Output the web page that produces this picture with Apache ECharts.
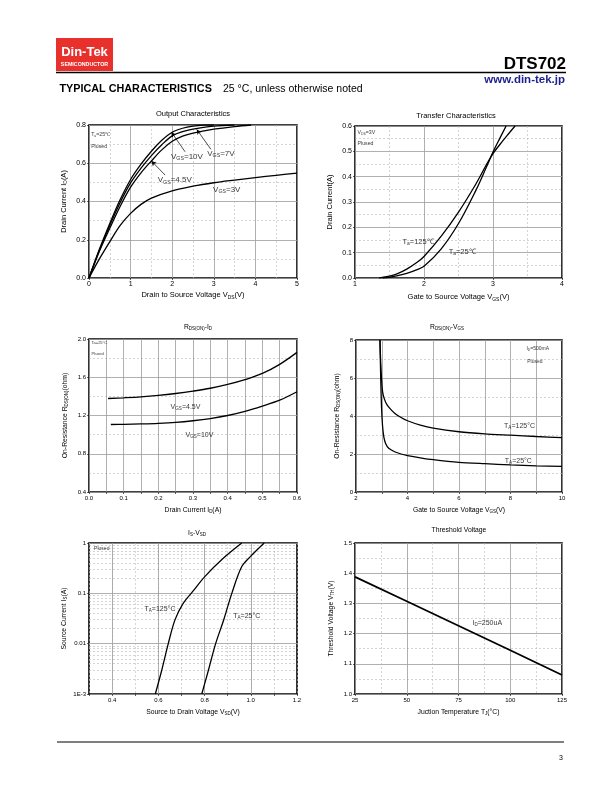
<!DOCTYPE html>
<html><head><meta charset="utf-8">
<script src="https://cdn.jsdelivr.net/npm/echarts/dist/echarts.min.js"></script>
<style>html,body{margin:0;padding:0;background:#fff}#c{width:612px;height:792px}</style>
</head><body><div id="c"></div>
<script>
// ---------- DATA ----------
// Chart 1: Output characteristics (VDS, ID)
const outVds10 = [0,0.25,0.5,0.75,1,1.25,1.5,1.75,2,2.25,2.5,2.75,3];
const outId10  = [0,0.15,0.285,0.41,0.515,0.595,0.663,0.72,0.762,0.783,0.794,0.799,0.8];
const outVds7  = [0,0.25,0.5,0.75,1,1.25,1.5,1.75,2,2.25,2.5,2.75,3,3.5];
const outId7   = [0,0.145,0.275,0.395,0.497,0.574,0.64,0.697,0.743,0.765,0.779,0.788,0.794,0.8];
const outVds45 = [0,0.25,0.5,0.75,1,1.25,1.5,1.75,2,2.25,2.5,3,3.5,3.9];
const outId45  = [0,0.14,0.26,0.375,0.475,0.55,0.612,0.67,0.715,0.742,0.758,0.778,0.792,0.8];
const outVds3  = [0,0.25,0.5,0.75,1,1.25,1.5,2,2.5,3,3.5,4,4.5,5];
const outId3   = [0,0.1,0.19,0.275,0.338,0.385,0.418,0.456,0.48,0.498,0.512,0.525,0.537,0.548];
// Chart 2: Transfer characteristics (VGS, ID)
const trVgs25  = [1.4,1.5,1.6,1.75,1.9,2,2.25,2.5,2.75,2.9,3,3.1,3.19];
const trId25   = [0,0.003,0.008,0.018,0.033,0.046,0.115,0.215,0.345,0.435,0.497,0.552,0.6];
const trVgs125 = [1.35,1.5,1.6,1.75,1.9,2,2.25,2.5,2.75,2.9,3,3.1,3.2,3.32];
const trId125  = [0,0.007,0.015,0.035,0.062,0.085,0.165,0.26,0.37,0.445,0.491,0.527,0.561,0.6];
// Chart 3: RDS(on) vs ID
const rdId45   = [0.055,0.1,0.15,0.2,0.25,0.3,0.35,0.4,0.45,0.5,0.55,0.6];
const rdR45    = [1.378,1.385,1.395,1.41,1.43,1.455,1.485,1.525,1.575,1.64,1.735,1.86];
const rdId10   = [0.063,0.1,0.15,0.2,0.25,0.3,0.35,0.4,0.45,0.5,0.55,0.6];
const rdR10    = [1.106,1.108,1.112,1.118,1.128,1.145,1.168,1.2,1.243,1.298,1.36,1.448];
// Chart 4: RDS(on) vs VGS
const rgV125   = [2.93,2.96,2.99,3.03,3.1,3.2,3.35,3.5,3.75,4,4.5,5,6,7,8,9,10];
const rgR125   = [8,6.8,6,5.3,4.9,4.6,4.35,4.15,3.92,3.75,3.52,3.36,3.17,3.06,2.99,2.92,2.86];
const rgV25    = [2.93,2.96,2.99,3.03,3.08,3.15,3.27,3.5,3.75,4,4.5,5,6,7,8,9,10];
const rgR25    = [8,6,4.5,3.5,2.9,2.55,2.3,2.12,2.0,1.92,1.8,1.7,1.56,1.49,1.43,1.38,1.35];
// Chart 5: IS vs VSD (log)
const sdV125   = [0.587,0.615,0.643,0.672,0.708,0.749,0.802,0.882,0.961];
const sdI125   = [0.001,0.003,0.01,0.0297,0.0638,0.109,0.217,0.502,1.0];
const sdV25    = [0.788,0.817,0.848,0.882,0.918,0.961,0.997,1.058];
const sdI25    = [0.001,0.003,0.01,0.0288,0.1,0.34,0.53,1.0];
// Chart 6: Threshold voltage vs Tj
const thTemp   = [25,50,75,100,125];
const thVth    = [1.388,1.307,1.226,1.145,1.063];
// Log-axis minor grid values and chart-5 major vertical lines
const logMinor = [0.002,0.003,0.004,0.005,0.006,0.007,0.008,0.009,0.02,0.03,0.04,0.05,0.06,0.07,0.08,0.09,0.2,0.3,0.4,0.5,0.6,0.7,0.8,0.9];
const sdMajorX = [0.4,0.6,0.8,1.0];

// ---------- STYLE HELPERS ----------
const FONT = '"Liberation Sans", Arial, Helvetica, sans-serif';
function rich(fs){ return { s:{fontSize:fs*0.66, fontFamily:FONT, color:'#000', padding:[fs*0.5,0,0,0]} }; }
const MAJ = {show:true, lineStyle:{color:'#9c9c9c', width:0.8, type:'solid'}};
const MIN = {show:true, lineStyle:{color:'#b8b8b8', width:0.6, type:[2,2]}};
const pair = (xs, ys) => xs.map((x,i)=>[x, ys[i]]);

function axis(o){
  const fs = o.fs;
  return Object.assign({
    gridIndex:o.g, type:o.type||'value', min:o.min, max:o.max, interval:o.interval,
    name:o.name, nameLocation:'middle', nameGap:o.gap,
    nameTextStyle:{fontFamily:FONT, fontSize:o.nfs, color:'#000', rich:rich(o.nfs)},
    axisLine:{show:false}, axisTick:{show:true, length:2, lineStyle:{color:'#000', width:0.6}},
    axisLabel:{fontFamily:FONT, fontSize:fs, color:'#000', margin:o.margin||3, formatter:o.fmt, showMinLabel:true, showMaxLabel:true},
    splitLine:o.split===false?{show:false}:(o.dash?MIN:MAJ),
    minorTick:{show:false, splitNumber:o.minor||2},
    minorSplitLine:o.minor?MIN:{show:false}
  }, o.extra||{});
}

const grids = [
  {left:89, top:125, width:208, height:153},
  {left:355, top:126, width:207, height:152},
  {left:89, top:339, width:208, height:153},
  {left:356, top:340, width:206, height:152},
  {left:89, top:543, width:208, height:151},
  {left:355, top:543, width:207, height:151}
].map(g=>Object.assign(g,{show:true, borderColor:'#000', borderWidth:1.6, backgroundColor:'transparent'}));

const f1 = v=>v.toFixed(1);
const xAxes = [
  axis({g:0,min:0,max:5,interval:1,minor:2,fs:7,nfs:7.5,gap:13,name:'Drain to Source Voltage V{s|DS}(V)',fmt:v=>String(v)}),
  axis({g:1,min:1,max:4,interval:1,minor:2,fs:7,nfs:7.5,gap:15,name:'Gate to Source Voltage V{s|GS}(V)',fmt:v=>String(v)}),
  axis({g:2,min:0,max:0.6,interval:0.05,fs:6,nfs:6.8,gap:14,name:'Drain Current I{s|D}(A)',
        fmt:v=>Math.abs(v*10-Math.round(v*10))<1e-6?v.toFixed(1):''}),
  axis({g:3,min:2,max:10,interval:1,fs:6,nfs:6.8,gap:14,name:'Gate to Source Voltage V{s|GS}(V)',
        fmt:v=>v%2===0?String(v):''}),
  axis({g:4,min:0.3,max:1.2,interval:0.1,dash:true,fs:6,nfs:6.8,gap:14,name:'Source to Drain Voltage V{s|SD}(V)',
        fmt:v=>{const k=Math.round(v*10);return (k%2===0&&k>=4)?(k/10).toFixed(1):'';}}),
  axis({g:5,min:25,max:125,interval:25,minor:2,fs:6,nfs:6.8,gap:14,name:'Juction Temperature T{s|J}(°C)',fmt:v=>String(v)})
];
const yAxes = [
  axis({g:0,min:0,max:0.8,interval:0.2,minor:2,fs:7,nfs:7.5,gap:21,name:'Drain Current I{s|D}(A)',fmt:f1}),
  axis({g:1,min:0,max:0.6,interval:0.1,minor:2,fs:7,nfs:7.5,gap:21,name:'Drain Current(A)',fmt:f1}),
  axis({g:2,min:0.4,max:2.0,interval:0.4,minor:2,fs:6,nfs:6.8,gap:20,name:'On-Resistance R{s|DS(ON)}(ohm)',fmt:f1}),
  axis({g:3,min:0,max:8,interval:2,minor:2,fs:6,nfs:6.8,gap:15,name:'On-Resistance R{s|DS(ON)}(ohm)',fmt:v=>String(v)}),
  axis({g:4,type:'log',min:0.001,max:1,fs:6,nfs:6.8,gap:21,name:'Source Current I{s|S}(A)',
        fmt:v=>{const e=Math.round(Math.log10(v));return e===0?'1':e===-3?'1E-3':String(Math.pow(10,e).toFixed(-e));},
        extra:{logBase:10}}),
  axis({g:5,min:1.0,max:1.5,interval:0.1,minor:2,fs:6,nfs:6.8,gap:20,name:'Threshold Voltage V{s|TH}(V)',fmt:f1})
];

function curve(g, xs, ys, w, sm){
  return {type:'line', xAxisIndex:g, yAxisIndex:g, data:pair(xs,ys), showSymbol:false, symbol:'none',
          smooth:sm===undefined?0.35:sm, lineStyle:{color:'#000', width:w||1.3}, silent:true, z:5};
}
function notes(g, items, fs, arrows, extraLines){
  const s = {type:'scatter', xAxisIndex:g, yAxisIndex:g, symbolSize:1, itemStyle:{color:'rgba(0,0,0,0)'}, silent:true, z:6,
    data: items.map(it=>({value:[it[0],it[1]], name:it[2], label:{fontSize:it[3]||fs, rich:rich(it[3]||fs)}})),
    label:{show:true, position:'right', distance:0, color:'#000', fontFamily:FONT, formatter:p=>p.name}};
  const ml = [];
  (arrows||[]).forEach(a=>ml.push([{coord:[a[0],a[1]], symbol:'none'},{coord:[a[2],a[3]], symbol:'arrow', symbolSize:[4,5]}]));
  (extraLines||[]).forEach(l=>ml.push(l));
  if(ml.length) s.markLine = {silent:true, symbol:'none', label:{show:false}, lineStyle:{color:'#000', width:0.7, type:'solid'}, data:ml, animation:false};
  return s;
}

const series = [
  curve(0,outVds10,outId10), curve(0,outVds7,outId7), curve(0,outVds45,outId45), curve(0,outVds3,outId3),
  notes(0,[[0.04,0.748,'T{s|a}=25℃',5.2],[0.04,0.687,'Plused',5.2],
           [1.96,0.634,'V{s|GS}=10V'],[2.83,0.652,'V{s|GS}=7V'],[1.64,0.512,'V{s|GS}=4.5V'],[2.97,0.46,'V{s|GS}=3V']],8,
        [[2.31,0.66,1.98,0.763],[2.93,0.673,2.59,0.777],[1.83,0.538,1.5,0.612]]),
  curve(1,trVgs25,trId25), curve(1,trVgs125,trId125),
  notes(1,[[1.03,0.574,'V{s|DS}=3V',5.2],[1.03,0.532,'Plused',5.2],
           [1.68,0.143,'T{s|a}=125℃'],[2.35,0.104,'T{s|a}=25℃']],7.5),
  curve(2,rdId45,rdR45), curve(2,rdId10,rdR10),
  notes(2,[[0.006,1.958,'Ta=25°C',4],[0.006,1.843,'Plused',4],
           [0.234,1.29,'V{s|GS}=4.5V'],[0.277,0.994,'V{s|GS}=10V']],7),
  curve(3,rgV125,rgR125,1.3,0.25), curve(3,rgV25,rgR25,1.3,0.25),
  notes(3,[[8.6,7.53,'I{s|D}=500mA',5],[8.63,6.84,'Plused',5],
           [7.73,3.49,'T{s|A}=125°C'],[7.76,1.61,'T{s|A}=25°C']],7),
  curve(4,sdV125,sdI125), curve(4,sdV25,sdI25),
  notes(4,[[0.32,0.76,'Plused',5],[0.538,0.0484,'T{s|A}=125°C'],[0.922,0.0357,'T{s|A}=25°C']],7,[],
        logMinor.map(v=>[{xAxis:0.3,yAxis:v,lineStyle:{color:'#b8b8b8',width:0.6,type:[2,2]}},{xAxis:1.2,yAxis:v}])
          .concat(sdMajorX.map(v=>[{xAxis:v,yAxis:0.001,lineStyle:{color:'#9c9c9c',width:0.8,type:'solid'}},{xAxis:v,yAxis:1}]))),
  curve(5,thTemp,thVth,1.8,false),
  notes(5,[[81.5,1.236,'I{s|D}=250uA']],7)
];

// ---------- PAGE GRAPHICS ----------
function txt(x,y,text,fs,opt){
  opt=opt||{};
  return {type:'text', x:x, y:y, z:10, silent:true,
    style:Object.assign({text:text, fontFamily:FONT, fontSize:fs, fill:opt.fill||'#000', fontWeight:opt.bold?'bold':'normal',
      align:opt.align||'center', verticalAlign:'middle', rich:rich(fs)}, opt.style||{})};
}
const graphic = [
  {type:'rect', shape:{x:56,y:38,width:57,height:33}, style:{fill:'#e8302c'}, silent:true},
  txt(84.5,52,'Din-Tek',13,{bold:true,fill:'#fff'}),
  txt(84.5,64.5,'SEMICONDUCTOR',5.3,{bold:true,fill:'#fff'}),
  {type:'line', shape:{x1:56,y1:72.5,x2:566,y2:72.5}, style:{stroke:'#000', lineWidth:1.4}, silent:true},
  txt(566,64,'DTS702',17,{bold:true,align:'right'}),
  txt(565,80,'www.din-tek.jp',11.5,{bold:true,align:'right',fill:'#1c1f8f'}),
  txt(59.5,89.5,'TYPICAL CHARACTERISTICS',10.8,{bold:true,align:'left',style:{fontWeight:900}}),
  txt(223,89.5,'25 °C, unless otherwise noted',10.5,{align:'left'}),
  {type:'line', shape:{x1:57,y1:742,x2:564,y2:742}, style:{stroke:'#000', lineWidth:1}, silent:true},
  txt(561,758,'3',7),
  txt(193,113.5,'Output Characteristics',7.5),
  txt(456,115.5,'Transfer Characteristics',7.5),
  txt(198,327,'R{s|DS(ON)}-I{s|D}',6.8),
  txt(447,327,'R{s|DS(ON)}-V{s|GS}',6.8),
  txt(197,533,'I{s|S}-V{s|SD}',6.8),
  txt(459,530,'Threshold Voltage',6.8)
];

const chart = echarts.init(document.getElementById('c'), null, {renderer:'canvas'});
chart.setOption({animation:false, backgroundColor:'#fff', grid:grids, xAxis:xAxes, yAxis:yAxes, series:series, graphic:graphic});
</script>
</body></html>
